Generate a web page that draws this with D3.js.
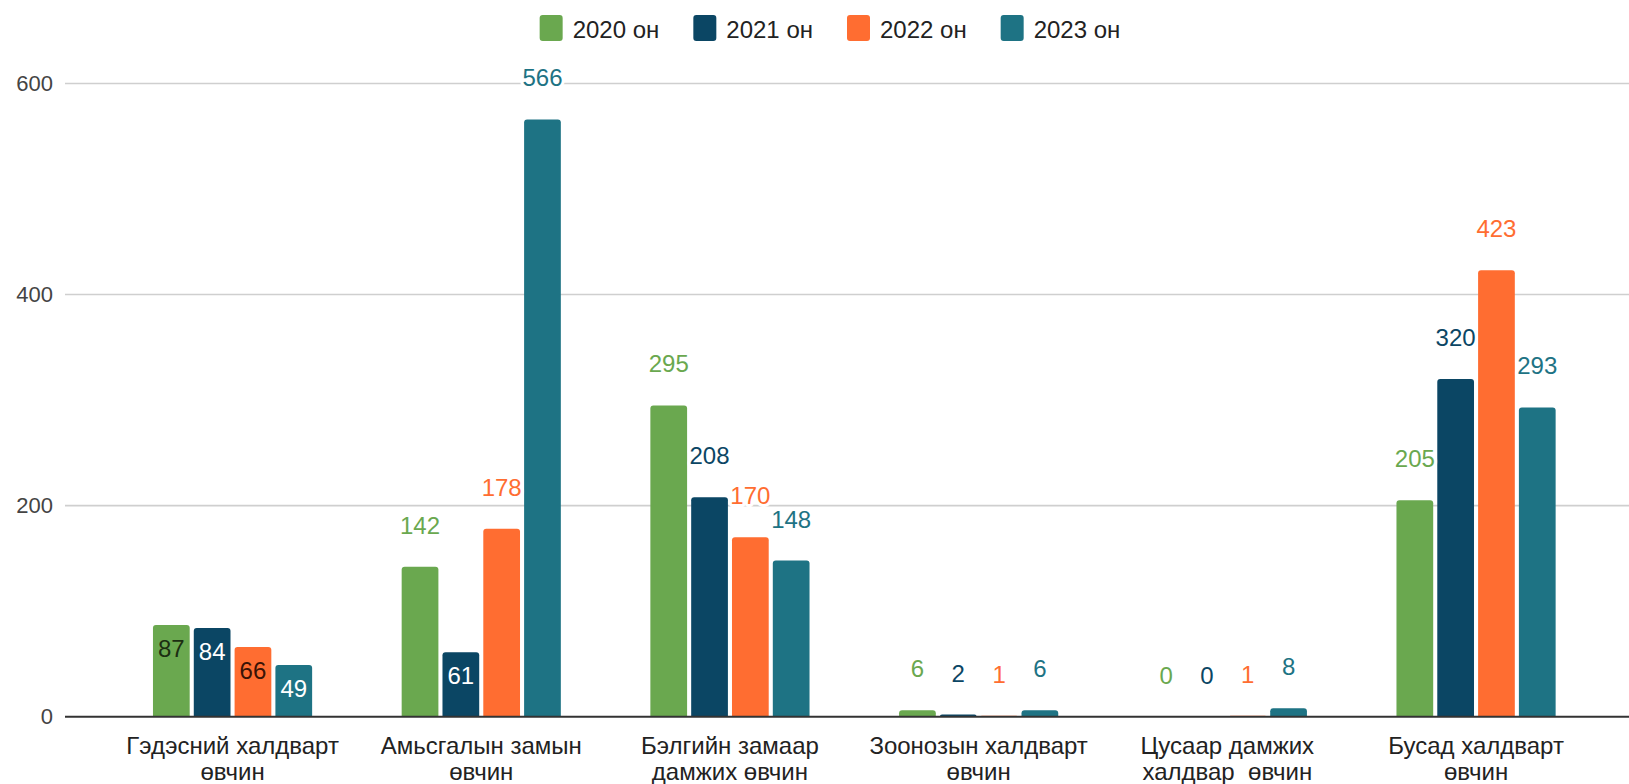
<!DOCTYPE html>
<html>
<head>
<meta charset="utf-8">
<script src="https://cdn.jsdelivr.net/npm/d3@7"></script>
<style>
  html, body { margin: 0; padding: 0; background: #fff; }
  svg { display: block; font-family: "Liberation Sans", Arial, sans-serif; }
</style>
</head>
<body>
<svg id="chart" width="1629" height="784"></svg>
<script>
// ---- data ----
const categories = [
  "Гэдэсний халдварт\nөвчин",
  "Амьсгалын замын\nөвчин",
  "Бэлгийн замаар\nдамжих өвчин",
  "Зоонозын халдварт\nөвчин",
  "Цусаар дамжих\nхалдвар  өвчин",
  "Бусад халдварт\nөвчин"
];
const seriesNames = ["2020 он", "2021 он", "2022 он", "2023 он"];
const values2020 = [87, 142, 295, 6, 0, 205];
const values2021 = [84, 61, 208, 2, 0, 320];
const values2022 = [66, 178, 170, 1, 1, 423];
const values2023 = [49, 566, 148, 6, 8, 293];
const yTicks = [0, 200, 400, 600];

const seriesValues = [values2020, values2021, values2022, values2023];
const colors = ["#6aa84f", "#0b4664", "#ff6d31", "#1e7384"];
const insideTextColors = ["#1c2e12", "#ffffff", "#3a1306", "#ffffff"];

const svg = d3.select("#chart");
const W = 1629, H = 784;

const y = d3.scaleLinear().domain([0, 600]).range([716.7, 83.5]);
const x0 = d3.scaleBand().domain(d3.range(categories.length))
  .range([108.2, 1600.4]).paddingInner(0.36).paddingOuter(0.18);
const x1 = d3.scaleBand().domain(d3.range(seriesNames.length))
  .range([0, x0.bandwidth()]).paddingInner(0.1).paddingOuter(0);

// gridlines
const grid = svg.append("g");
grid.selectAll("line").data(yTicks.filter(d => d !== 0)).join("line")
  .attr("x1", 65).attr("x2", W)
  .attr("y1", d => y(d)).attr("y2", d => y(d))
  .attr("stroke", "#cfcfcf").attr("stroke-width", 1.6);

// y axis labels
const yAxis = d3.axisLeft(y).tickValues(yTicks).tickSize(0).tickPadding(12);
const gy = svg.append("g").attr("transform", "translate(65,0)").call(yAxis);
gy.select(".domain").remove();
gy.selectAll("text").attr("font-size", 22).attr("fill", "#444")
  .attr("font-family", "Liberation Sans, Arial, sans-serif");

// bars
const rows = [];
categories.forEach((c, i) => {
  seriesValues.forEach((arr, s) => rows.push({ cat: i, s, v: arr[i] }));
});

function barPath(d) {
  const bx = x0(d.cat) + x1(d.s), bw = x1.bandwidth();
  const top = y(d.v), bot = y(0);
  const h = bot - top;
  if (h <= 0) return "";
  const r = Math.min(3, h, bw / 2);
  return `M${bx},${bot}V${top + r}Q${bx},${top} ${bx + r},${top}H${bx + bw - r}Q${bx + bw},${top} ${bx + bw},${top + r}V${bot}Z`;
}

svg.append("g").selectAll("path").data(rows).join("path")
  .attr("d", barPath)
  .attr("fill", d => colors[d.s]);

// x axis baseline
svg.append("line").attr("x1", 65).attr("x2", W)
  .attr("y1", y(0)).attr("y2", y(0))
  .attr("stroke", "#333").attr("stroke-width", 2);

// value labels
const inside = d => d.v > 10 && d.v < 100;
svg.append("g").selectAll("text").data(rows).join("text")
  .attr("x", d => x0(d.cat) + x1(d.s) + x1.bandwidth() / 2)
  .attr("y", d => inside(d) ? y(d.v) + 32 : y(d.v) - 33)
  .attr("text-anchor", "middle")
  .attr("font-size", 24)
  .attr("fill", d => inside(d) ? insideTextColors[d.s] : colors[d.s])
  .attr("stroke", d => inside(d) ? "none" : "#fff")
  .attr("stroke-width", 6)
  .attr("paint-order", "stroke")
  .attr("stroke-linejoin", "round")
  .text(d => d.v);

// category labels
const xl = svg.append("g");
categories.forEach((c, i) => {
  const t = xl.append("text")
    .attr("x", x0(i) + x0.bandwidth() / 2)
    .attr("y", 754)
    .attr("text-anchor", "middle")
    .attr("font-size", 24)
    .attr("fill", "#222")
    .style("white-space", "pre");
  c.split("\n").forEach((line, k) => {
    t.append("tspan").attr("x", x0(i) + x0.bandwidth() / 2)
      .attr("dy", k === 0 ? 0 : 26).text(line);
  });
});

// legend
const legend = svg.append("g");
let lx = 0;
const items = [];
seriesNames.forEach((n, s) => {
  const g = legend.append("g");
  g.append("rect").attr("x", 0).attr("y", 15).attr("width", 23).attr("height", 26)
    .attr("rx", 3).attr("fill", colors[s]);
  const t = g.append("text").attr("x", 33).attr("y", 38).attr("font-size", 24)
    .attr("fill", "#222").text(n);
  items.push({ g, w: 33 + t.node().getComputedTextLength() });
});
items.forEach((it, i) => {
  it.g.attr("transform", `translate(${lx},0)`);
  lx += it.w + (i < items.length - 1 ? 34 : 0);
});
legend.attr("transform", `translate(${830 - lx / 2},0)`);
</script>
</body>
</html>
